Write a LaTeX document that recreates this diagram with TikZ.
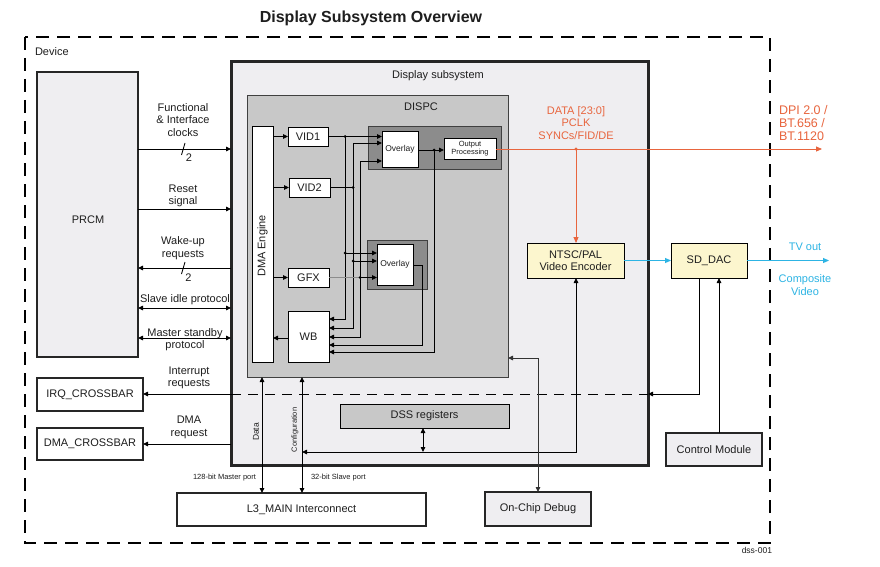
\documentclass[tikz,border=0pt]{standalone}
\usepackage{fontspec}
\setmainfont{Liberation Sans}
\usetikzlibrary{arrows.meta}
\definecolor{orangeC}{RGB}{232,101,62}
\definecolor{blueC}{RGB}{45,180,228}
\definecolor{yellowF}{RGB}{252,246,206}
\definecolor{dssF}{RGB}{239,238,241}
\definecolor{dispcF}{RGB}{200,200,200}
\definecolor{darkF}{RGB}{140,140,140}
\definecolor{txt}{RGB}{30,30,30}
\tikzset{
 mf/.style={font=\fontsize{11}{12.5}\selectfont},
 sf/.style={font=\fontsize{8.5}{10}\selectfont},
 tf/.style={font=\fontsize{7.5}{9}\selectfont},
 blk/.style={draw=black, line width=0.9pt, inner sep=0pt, outer sep=0pt, mf, text=txt, align=center},
 heavy/.style={draw=black!85, line width=2pt, inner sep=0pt, outer sep=0pt, mf, text=txt, align=center},
 lbl/.style={inner sep=0pt, outer sep=0pt, align=center, mf, text=txt},
 ln/.style={line width=0.85pt, draw=black},
 arr/.style={ln, -{Triangle[length=5pt,width=4.5pt]}},
 darr/.style={ln, {Triangle[length=5pt,width=4.5pt]}-{Triangle[length=5pt,width=4.5pt]}},
 oarr/.style={line width=0.9pt, draw=orangeC, -{Triangle[length=6pt,width=5pt]}},
 barr/.style={line width=0.9pt, draw=blueC, -{Triangle[length=6pt,width=5pt]}},
}
\begin{document}
\begin{tikzpicture}[x=1pt,y=-1pt]
\useasboundingbox[fill=white] (0,0) rectangle (880,567);

% title and device frame
\node[lbl, font=\fontsize{16}{18}\selectfont\bfseries] (title) at (371,18) {Display Subsystem Overview};
\draw[line width=1.2pt, dash pattern=on 13pt off 8pt] (25,37) rectangle (770,543);
\node[lbl, anchor=west] (device) at (35,52) {Device};
\node[lbl, sf, anchor=east] (dss001) at (772,550) {dss-001};

% outer blocks
\node[heavy, line width=2.4pt, fill=dssF, minimum width=101, minimum height=285] (prcm) at (87.5,214.5) {};
\node[lbl] (prcmlbl) at (88,220) {PRCM};
\node[heavy, line width=3pt, fill=dssF, minimum width=417, minimum height=403] (dss) at (439.5,263.5) {};
\node[lbl] (dsslbl) at (438,76) {Display subsystem};
\node[draw=black!75, line width=0.8pt, fill=dispcF, minimum width=261, minimum height=282, inner sep=0pt, outer sep=0pt] (dispc) at (377.5,236) {};
\node[lbl] (dispclbl) at (421,107) {DISPC};

% DISPC content
\node[blk, fill=white, minimum width=21, minimum height=236] (dma) at (262.5,244) {};
\node[lbl, rotate=90] (dmalbl) at (262.5,246) {DMA Engine};
\node[blk, fill=white, minimum width=40, minimum height=19] (vid1) at (308,136.5) {VID1};
\node[blk, fill=white, minimum width=41, minimum height=19] (vid2) at (309.5,187.5) {VID2};
\node[blk, fill=white, minimum width=41, minimum height=19] (gfx) at (308.5,277.5) {GFX};
\node[blk, fill=white, minimum width=41, minimum height=51] (wb) at (308.5,336.5) {WB};
\node[draw=black!75, line width=0.8pt, fill=darkF, minimum width=133, minimum height=43, inner sep=0pt, outer sep=0pt] (ov1bg) at (434.5,147.5) {};
\node[blk, fill=white, minimum width=36, minimum height=36, sf] (ov1) at (400,149) {Overlay};
\node[blk, fill=white, minimum width=52, minimum height=21, font=\fontsize{7.5}{8.5}\selectfont] (outp) at (470,148.5) {Output\\Processing};
\node[draw=black!75, line width=0.8pt, fill=darkF, minimum width=60, minimum height=49, inner sep=0pt, outer sep=0pt] (ov2bg) at (397,264.5) {};
\node[blk, fill=white, minimum width=36, minimum height=41, sf] (ov2) at (395,264.5) {Overlay};

% other blocks
\node[blk, fill=yellowF, minimum width=97, minimum height=35] (enc) at (575.5,260.5) {NTSC/PAL\\Video Encoder};
\node[blk, fill=yellowF, minimum width=76, minimum height=35] (dac) at (709,260.5) {SD\_DAC};
\node[blk, fill=dispcF, minimum width=169, minimum height=24] (dssreg) at (424.5,416) {DSS registers};
\node[heavy, fill=dssF, minimum width=96, minimum height=33] (ctrl) at (714,449.5) {Control Module};
\node[heavy, fill=white, minimum width=106, minimum height=33] (irq) at (90,394.5) {IRQ\_CROSSBAR};
\node[heavy, fill=white, minimum width=106, minimum height=32] (dmax) at (90,444) {DMA\_CROSSBAR};
\node[heavy, fill=white, minimum width=249, minimum height=33] (l3) at (301.5,509.5) {L3\_MAIN Interconnect};
\node[heavy, fill=dssF, minimum width=106, minimum height=34] (ocd) at (538,509) {On-Chip Debug};

% PRCM signals
\draw[arr] (prcm.east |- 0,149) -- (dss.west |- 0,149);
\node[lbl] (fclk) at (183,120) {Functional\\\& Interface\\clocks};
\draw[ln] (181.5,155) -- (185,143);
\node[lbl] (n2a) at (189,158) {2};
\draw[arr] (prcm.east |- 0,209) -- (dss.west |- 0,209);
\node[lbl] (rst) at (183,196) {Reset\\signal};
\draw[arr] (dss.west |- 0,268) -- (prcm.east |- 0,268);
\node[lbl] (wku) at (183,248) {Wake-up\\requests};
\draw[ln] (181.5,274) -- (185,262);
\node[lbl] (n2b) at (188.5,278) {2};
\draw[darr] (prcm.east |- 0,308) -- (dss.west |- 0,308);
\node[lbl] (sip) at (185,300) {Slave idle protocol};
\draw[darr] (prcm.east |- 0,338) -- (dss.west |- 0,338);
\node[lbl] (msp) at (185,339.5) {Master standby\\protocol};

% interrupts / DMA
\draw[arr] (dss.west |- 0,394) -- (irq.east |- 0,394);
\node[lbl] (irqlbl) at (189,378) {Interrupt\\requests};
\draw[line width=0.8pt, dash pattern=on 10pt off 7pt] (dss.west |- 0,394) -- (dss.east |- 0,394);
\draw[arr] (dac.south -| 699,0) -- (699,394) -- (dss.east |- 0,394);
\draw[arr] (dss.west |- dmax.east) -- (dmax.east);
\node[lbl] (dmalbl2) at (189,427.5) {DMA\\request};
\draw[arr] (ctrl.north -| 719,0) -- (dac.south -| 719,0);

% L3 connections
\draw[darr] (dispc.south -| 262,0) -- (l3.north -| 262,0);
\draw[darr] (dispc.south -| 302,0) -- (l3.north -| 302,0);
\node[lbl, sf, rotate=90] (datalbl) at (256,432) {Data};
\node[lbl, tf, rotate=90] (cfglbl) at (295,430) {Configuration};
\node[lbl, tf, anchor=east] (mport) at (256,478) {128-bit Master port};
\node[lbl, tf, anchor=west] (sport) at (311,478) {32-bit Slave port};
\draw[darr] (302,452) -- (576,452) -- (enc.south -| 576,0);
\draw[darr] (dssreg.south -| 423,0) -- (423,452);
\draw[darr, draw=black!80] (dispc.east |- 0,358) -- (538,358) -- (ocd.north);

% DISPC internal
\draw[arr] (dma.east |- vid1) -- (vid1.west);
\draw[arr] (dma.east |- vid2) -- (vid2.west);
\draw[arr] (dma.east |- gfx) -- (gfx.west);
\draw[arr] (wb.west |- 0,338) -- (dma.east |- 0,338);
\coordinate (j1) at (345,136.5);
\coordinate (j2) at (353,187.5);
\coordinate (j3) at (345,253);
\coordinate (j4) at (353,261);
\coordinate (j5) at (360,277.5);
\coordinate (j6) at (434,150);
\draw[arr] (vid1.east) -- (ov1.west |- vid1.east);
\draw[arr] (j1) -- (345,319) -- (wb.east |- 0,319);
\draw[arr] (j3) -- (ov2.west |- j3);
\draw[ln] (vid2.east) -- (j2);
\draw[darr] (wb.east |- 0,328) -- (353,328) -- (353,143) -- (ov1.west |- 0,143);
\draw[arr] (j4) -- (ov2.west |- j4);
\draw[line width=1.2pt, draw=black!45] (gfx.east) -- (j5);
\draw[arr] (j5) -- (ov2.west |- j5);
\draw[darr] (wb.east |- 0,337) -- (360,337) -- (360,161) -- (ov1.west |- 0,161);
\draw[arr] (ov2.east |- 0,265) -- (422,265) -- (422,345) -- (wb.east |- 0,345);
\draw[arr] (ov1.east |- j6) -- (outp.west |- j6);
\draw[arr] (j6) -- (434,352) -- (wb.east |- 0,352);
\foreach \j in {j1,j2,j3,j4,j5,j6} \fill (\j) circle (1.5pt);

% video outputs
\coordinate (dpi) at (822,149);
\coordinate (tap) at (576,149);
\draw[oarr] (outp.east |- 0,149) -- (dpi);
\draw[oarr] (tap) -- (enc.north -| tap);
\fill[orangeC] (tap) circle (1.6pt);
\node[lbl, text=orangeC] (datalbl2) at (576,123) {DATA [23:0]\\PCLK\\SYNCs/FID/DE};
\node[lbl, text=orangeC, anchor=west, align=left, font=\fontsize{12.5}{13}\selectfont] (dpilbl) at (779,123) {DPI 2.0 /\\BT.656 /\\BT.1120};
\coordinate (tv) at (829,260.5);
\draw[barr] (enc.east) -- (dac.west);
\draw[barr] (dac.east) -- (tv);
\node[lbl, text=blueC] (tvlbl) at (805,247) {TV out};
\node[lbl, text=blueC] (cvlbl) at (805,285) {Composite\\Video};
\end{tikzpicture}
\end{document}
